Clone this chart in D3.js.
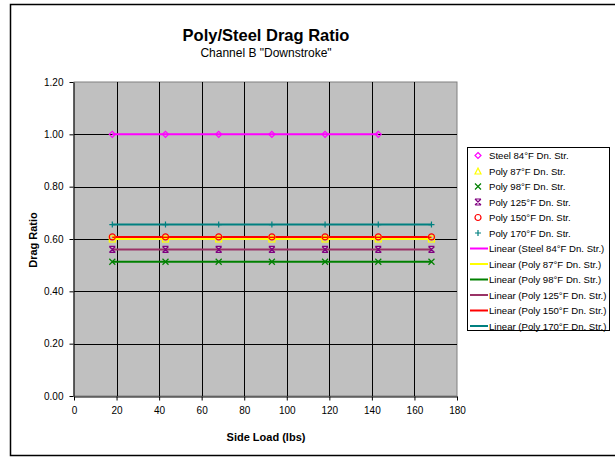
<!DOCTYPE html>
<html>
<head>
<meta charset="utf-8">
<script src="https://cdn.jsdelivr.net/npm/d3@7"></script>
<style>
  html, body { margin: 0; padding: 0; background: #fff; }
  svg { display: block; font-family: "Liberation Sans", Arial, sans-serif; }
</style>
</head>
<body>
<svg id="chart" width="615" height="459"></svg>
<script>
// Side load positions (lbs)
const sideLoad = [18, 43, 68, 93, 118, 143, 168];
const steelLoad = [18, 43, 68, 93, 118, 143];

// Drag ratio per series
const steel84 = [1.00, 1.00, 1.00, 1.00, 1.00, 1.00];
const poly87  = [0.60, 0.60, 0.60, 0.60, 0.60, 0.60, 0.60];
const poly98  = [0.513, 0.513, 0.513, 0.513, 0.513, 0.513, 0.513];
const poly125 = [0.56, 0.56, 0.56, 0.56, 0.56, 0.56, 0.56];
const poly150 = [0.608, 0.608, 0.608, 0.608, 0.608, 0.608, 0.608];
const poly170 = [0.655, 0.655, 0.655, 0.655, 0.655, 0.655, 0.655];

const seriesNames = ["Steel 84°F Dn. Str.", "Poly 87°F Dn. Str.", "Poly 98°F Dn. Str.",
                     "Poly 125°F Dn. Str.", "Poly 150°F Dn. Str.", "Poly 170°F Dn. Str."];
const xTicks = [0, 20, 40, 60, 80, 100, 120, 140, 160, 180];
const yTicks = [0, 0.2, 0.4, 0.6, 0.8, 1.0, 1.2];

const series = [
  { name: seriesNames[0], xs: steelLoad, ys: steel84, marker: "diamond",  mColor: "#FF00FF", lColor: "#FF00FF" },
  { name: seriesNames[1], xs: sideLoad,  ys: poly87,  marker: "triangle", mColor: "#FFFF00", lColor: "#FFFF00" },
  { name: seriesNames[2], xs: sideLoad,  ys: poly98,  marker: "x",        mColor: "#008000", lColor: "#008000" },
  { name: seriesNames[3], xs: sideLoad,  ys: poly125, marker: "star",     mColor: "#800080", lColor: "#993366" },
  { name: seriesNames[4], xs: sideLoad,  ys: poly150, marker: "circle",   mColor: "#FF0000", lColor: "#FF0000" },
  { name: seriesNames[5], xs: sideLoad,  ys: poly170, marker: "plus",     mColor: "#008080", lColor: "#008080" }
];

const svg = d3.select("#chart");

// Outer chart frame
svg.append("rect").attr("x", 10.5).attr("y", 4.5).attr("width", 620).attr("height", 451)
  .attr("fill", "#fff").attr("stroke", "#000").attr("stroke-width", 1.5);

const plot = { left: 74, right: 457, top: 82, bottom: 396 };
const x = d3.scaleLinear().domain([0, 180]).range([plot.left, plot.right]);
const y = d3.scaleLinear().domain([0, 1.2]).range([plot.bottom, plot.top]);

// Plot background
svg.append("rect").attr("x", plot.left).attr("y", plot.top)
  .attr("width", plot.right - plot.left).attr("height", plot.bottom - plot.top)
  .attr("fill", "#C0C0C0").attr("stroke", "#808080").attr("stroke-width", 1);

// Gridlines
const grid = svg.append("g");
grid.selectAll("line.v").data(xTicks.slice(1, -1)).join("line")
  .attr("x1", d => Math.round(x(d)) + 0.5).attr("x2", d => Math.round(x(d)) + 0.5)
  .attr("y1", plot.top).attr("y2", plot.bottom)
  .attr("stroke", "#000").attr("stroke-width", 1);
grid.selectAll("line.h").data(yTicks.slice(1, -1)).join("line")
  .attr("y1", d => Math.round(y(d)) + 0.5).attr("y2", d => Math.round(y(d)) + 0.5)
  .attr("x1", plot.left).attr("x2", plot.right)
  .attr("stroke", "#000").attr("stroke-width", 1);

// Axes
const xAxis = svg.append("g").attr("transform", `translate(0,${plot.bottom + 0.5})`)
  .call(d3.axisBottom(x).tickValues(xTicks).tickSize(4).tickSizeOuter(0).tickPadding(6).tickFormat(d3.format("d")));
const yAxis = svg.append("g").attr("transform", `translate(${plot.left - 0.5},0)`)
  .call(d3.axisLeft(y).tickValues(yTicks).tickSize(4).tickSizeOuter(0).tickPadding(6).tickFormat(d3.format(".2f")));
[xAxis, yAxis].forEach(a => {
  a.selectAll("text").attr("font-size", 10).attr("fill", "#000")
    .attr("font-family", "'Liberation Sans', Arial, sans-serif");
  a.selectAll("line, path").attr("stroke", "#000");
});

// Titles
svg.append("text").attr("x", 266).attr("y", 41).attr("text-anchor", "middle")
  .attr("font-size", 16.5).attr("font-weight", "bold").text("Poly/Steel Drag Ratio");
svg.append("text").attr("x", 266).attr("y", 57).attr("text-anchor", "middle")
  .attr("font-size", 12).text('Channel B "Downstroke"');
svg.append("text").attr("x", 266).attr("y", 441).attr("text-anchor", "middle")
  .attr("font-size", 11).attr("font-weight", "bold").text("Side Load (lbs)");
svg.append("text").attr("transform", "translate(37,240) rotate(-90)").attr("text-anchor", "middle")
  .attr("font-size", 11).attr("font-weight", "bold").text("Drag Ratio");

// Marker drawing
function drawMarker(g, type, color) {
  const s = 3;
  if (type === "diamond") {
    g.append("path").attr("d", `M0,${-s}L${s},0L0,${s}L${-s},0Z`).attr("fill", "none").attr("stroke", color).attr("stroke-width", 1.2);
  } else if (type === "triangle") {
    g.append("path").attr("d", `M0,${-s}L${s},${s}L${-s},${s}Z`).attr("fill", "none").attr("stroke", color).attr("stroke-width", 1.2);
  } else if (type === "square") {
    g.append("rect").attr("x", -s).attr("y", -s).attr("width", 2 * s).attr("height", 2 * s).attr("fill", "none").attr("stroke", color).attr("stroke-width", 1.2);
  } else if (type === "x") {
    g.append("path").attr("d", `M${-s},${-s}L${s},${s}M${-s},${s}L${s},${-s}`).attr("stroke", color).attr("stroke-width", 1.2);
  } else if (type === "star") {
    g.append("path").attr("d", `M${-s},${-s}L${s},${s}M${-s},${s}L${s},${-s}M${-s},${-s}L${s},${-s}M${-s},${s}L${s},${s}`).attr("stroke", color).attr("stroke-width", 1.2);
  } else if (type === "circle") {
    g.append("circle").attr("r", s).attr("fill", "none").attr("stroke", color).attr("stroke-width", 1.2);
  } else if (type === "plus") {
    g.append("path").attr("d", `M${-s},0L${s},0M0,${-s}L0,${s}`).attr("stroke", color).attr("stroke-width", 1.2);
  }
}

// Linear trend lines (least-squares fit on each series)
function fit(xs, ys) {
  const n = xs.length, mx = d3.mean(xs), my = d3.mean(ys);
  let num = 0, den = 0;
  for (let i = 0; i < n; i++) { num += (xs[i] - mx) * (ys[i] - my); den += (xs[i] - mx) ** 2; }
  const b = den ? num / den : 0;
  return v => my + b * (v - mx);
}

const marks = svg.append("g");
series.forEach(s => {
  const f = fit(s.xs, s.ys);
  const x0 = d3.min(s.xs), x1 = d3.max(s.xs);
  marks.append("line").attr("x1", x(x0)).attr("x2", x(x1))
    .attr("y1", y(f(x0))).attr("y2", y(f(x1)))
    .attr("stroke", s.lColor).attr("stroke-width", 2);
});
series.forEach(s => {
  const mk = s.marker === "triangle" ? "square" : s.marker;
  s.xs.forEach((v, i) => {
    const g = marks.append("g").attr("transform", `translate(${x(v)},${y(s.ys[i])})`);
    drawMarker(g, mk, s.mColor);
  });
});

// Legend
const lg = svg.append("g");
lg.append("rect").attr("x", 467.5).attr("y", 147.5).attr("width", 142).attr("height", 183)
  .attr("fill", "#fff").attr("stroke", "#000").attr("stroke-width", 1);
const rowY = i => 155.5 + i * 15.5;
series.forEach((s, i) => {
  const g = lg.append("g").attr("transform", `translate(478,${rowY(i)})`);
  drawMarker(g, s.marker, s.mColor);
  lg.append("text").attr("x", 489).attr("y", rowY(i) + 3.5).attr("font-size", 9.6).text(s.name);
});
series.forEach((s, i) => {
  const yy = rowY(i + 6);
  lg.append("line").attr("x1", 470).attr("x2", 488).attr("y1", yy).attr("y2", yy)
    .attr("stroke", s.lColor).attr("stroke-width", 2);
  lg.append("text").attr("x", 489).attr("y", yy + 3.5).attr("font-size", 9.6).text(`Linear (${s.name})`);
});
</script>
</body>
</html>
